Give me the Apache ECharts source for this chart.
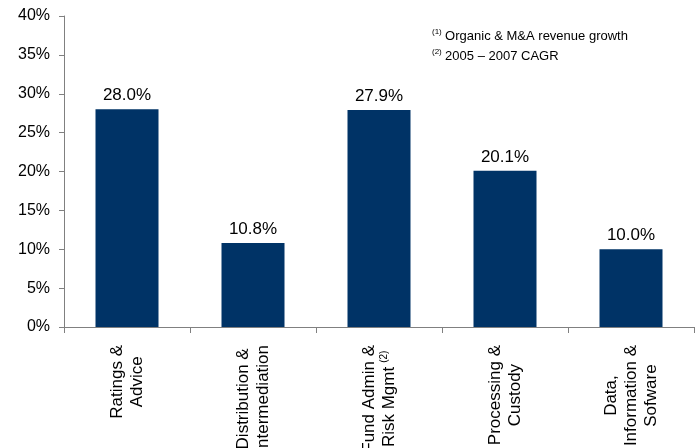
<!DOCTYPE html>
<html>
<head>
<meta charset="utf-8">
<script src="https://cdn.jsdelivr.net/npm/echarts@6/dist/echarts.min.js"></script>
<style>
  html, body { margin: 0; padding: 0; background: #fff; }
  #chart { width: 697px; height: 448px; }
</style>
</head>
<body>
<div id="chart"></div>
<script>
// Segment names (one entry per line of the rotated axis label)
const categories = [
  ['Ratings &', 'Advice'],
  ['Distribution &', 'Intermediation'],
  ['Fund Admin &', 'Risk Mgmt'],
  ['Processing &', 'Custody'],
  ['Data,', 'Information &', 'Sofware']
];
// Footnote marker attached to a category label (by index)
const categoryNotes = { 2: '(2)' };
// Revenue growth, %
const growth = [28.0, 10.8, 27.9, 20.1, 10.0];
// Value axis
const yMin = 0, yMax = 40, yStep = 5;
// Footnotes
const notes = [
  ['(1)', 'Organic & M&A revenue growth'],
  ['(2)', '2005 \u2013 2007 CAGR']
];

const FONT = '"Liberation Sans", Arial, sans-serif';
const NAVY = '#003366';
const AXIS_GRAY = '#808080';

const chart = echarts.init(document.getElementById('chart'), null, { renderer: 'canvas' });

chart.setOption({
  animation: false,
  backgroundColor: '#ffffff',
  grid: {
    left: 64, right: 3, top: 16, bottom: 121,
    containLabel: false,
    outerBoundsMode: 'none'
  },
  xAxis: {
    type: 'category',
    data: categories.map((c, i) => String(i)),
    boundaryGap: true,
    axisLine: { lineStyle: { color: AXIS_GRAY, width: 1 } },
    axisTick: { show: true, length: 6, inside: false, lineStyle: { color: AXIS_GRAY } },
    splitLine: { show: false },
    axisLabel: {
      interval: 0,
      rotate: 90,
      margin: 18,
      color: '#000',
      fontFamily: FONT,
      fontSize: 17,
      lineHeight: 20,
      formatter: function (value) {
        const idx = Number(value);
        const lines = categories[idx];
        return lines.map(function (line, li) {
          let s = '{c|' + line + '}';
          if (li === lines.length - 1 && categoryNotes[idx]) {
            s += '{s|' + categoryNotes[idx] + '}';
          }
          return s;
        }).join('\n');
      },
      rich: {
        c: { align: 'center', fontFamily: FONT, fontSize: 17, lineHeight: 20, color: '#000' },
        s: { align: 'center', fontFamily: FONT, fontSize: 10, lineHeight: 20, verticalAlign: 'top', color: '#000', padding: [0, 0, 0, 4] }
      }
    }
  },
  yAxis: {
    type: 'value',
    min: yMin, max: yMax, interval: yStep,
    axisLine: { show: true, lineStyle: { color: AXIS_GRAY, width: 1 } },
    axisTick: { show: true, length: 5, lineStyle: { color: AXIS_GRAY } },
    splitLine: { show: false },
    axisLabel: {
      margin: 14,
      color: '#000',
      fontFamily: FONT,
      fontSize: 16,
      formatter: '{value}%'
    }
  },
  series: [{
    type: 'bar',
    data: growth,
    barWidth: '50%',
    itemStyle: { color: NAVY },
    label: {
      show: true,
      position: 'top',
      distance: 5,
      color: '#000',
      fontFamily: FONT,
      fontSize: 17,
      formatter: p => p.value.toFixed(1) + '%'
    }
  }],
  graphic: notes.map((n, i) => ({
    type: 'text',
    left: 432,
    top: 28 + i * 20,
    style: {
      text: '{sup|' + n[0] + '} {t|' + n[1] + '}',
      rich: {
        sup: { fontFamily: FONT, fontSize: 8, verticalAlign: 'top', lineHeight: 16, fill: '#000' },
        t: { fontFamily: FONT, fontSize: 13, lineHeight: 16, fill: '#000' }
      }
    }
  }))
});
</script>
</body>
</html>
